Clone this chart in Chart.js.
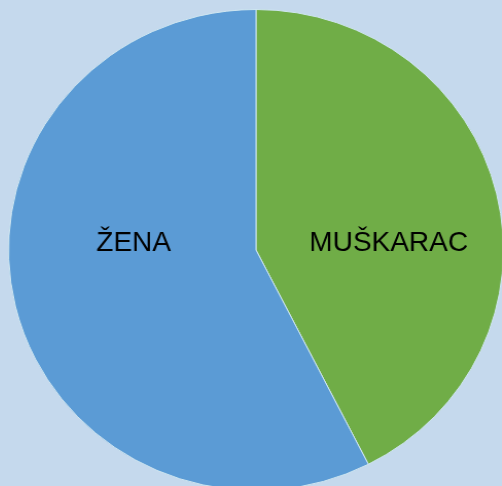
<!DOCTYPE html>
<html>
<head>
<meta charset="utf-8">
<script src="https://cdn.jsdelivr.net/npm/chart.js@4/dist/chart.umd.min.js"></script>
<style>
  html, body { margin: 0; padding: 0; }
  body { width: 502px; height: 486px; overflow: hidden; background: #c5d9ed; position: relative; }
  #genderPie { position: absolute; left: 8px; top: 9px; width: 496px; height: 482px; }
</style>
</head>
<body>
<canvas id="genderPie" width="482" height="482" style="width:496px;height:482px"></canvas>
<script>
let ctx = document.getElementById("genderPie").getContext("2d");

const genderLabels = ["MUŠKARAC", "ŽENA"];
const genderCounts = [17, 23];
const sliceColors = ["#70ad47", "#5b9bd5"];

// labels sit on the centre line, pushed sideways along each slice's middle angle
const sliceLabels = {
  id: "sliceLabels",
  afterDatasetsDraw(chart) {
    const c = chart.ctx;
    const stretch = chart.canvas.clientWidth / chart.width;
    chart.getDatasetMeta(0).data.forEach((arc, i) => {
      const mid = (arc.startAngle + arc.endAngle) / 2;
      const x = arc.x + Math.cos(mid) * arc.outerRadius * 0.53 + 5;
      const y = arc.y + 1;
      c.save();
      c.translate(x, y);
      c.scale(1 / stretch, 1);
      c.font = "28px 'Liberation Sans', Arial, sans-serif";
      c.fillStyle = "#000";
      c.textAlign = "center";
      c.textBaseline = "alphabetic";
      c.fillText(chart.data.labels[i], 0, 0);
      c.restore();
    });
  },
};

var genderChart = new Chart(ctx, {
  type: "pie",
  data: {
    labels: genderLabels,
    datasets: [
      {
        data: genderCounts,
        backgroundColor: sliceColors,
        borderColor: "#cfe6f0",
        borderWidth: 1,
      },
    ],
  },
  options: {
    responsive: false,
    animation: false,
    plugins: {
      legend: { display: false },
      tooltip: { enabled: false },
    },
  },
  plugins: [sliceLabels],
});
</script>
</body>
</html>
